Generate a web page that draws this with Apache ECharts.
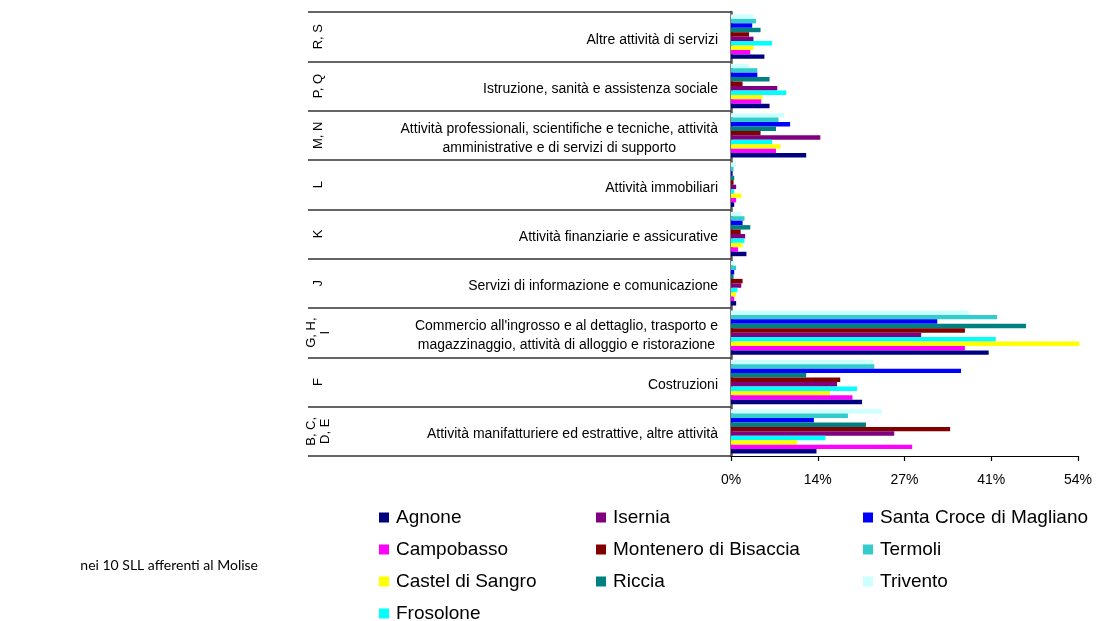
<!DOCTYPE html>
<html><head><meta charset="utf-8">
<script src="https://cdn.jsdelivr.net/npm/echarts@6/dist/echarts.min.js"></script>
<style>html,body{margin:0;padding:0;background:#fff}#c{width:1096px;height:621px}</style>
</head><body><div id="c"></div>
<script>
// categories, bottom to top
const codes = ['B, C,\nD, E', 'F', 'G, H,\nI', 'J', 'K', 'L', 'M, N', 'P, Q', 'R, S'];
const sectors = [
  'Attività manifatturiere ed estrattive, altre attività',
  'Costruzioni',
  "Commercio all'ingrosso e al dettaglio, trasporto e\nmagazzinaggio, attività di alloggio e ristorazione",
  'Servizi di informazione e comunicazione',
  'Attività finanziarie e assicurative',
  'Attività immobiliari',
  'Attività professionali, scientifiche e tecniche, attività\namministrative e di servizi di supporto',
  'Istruzione, sanità e assistenza sociale',
  'Altre attività di servizi'
];
const xTicks = [0, 13.5, 27, 40.5, 54];
const footnote = 'nei 10 SLL afferenti al Molise';

const agnone      = [13.3, 20.4, 40.1, 0.8, 2.4, 0.5, 11.7, 6.0, 5.2];
const campobasso  = [28.2, 18.9, 36.4, 0.5, 1.1, 0.8, 7.0, 4.7, 3.0];
const castel      = [10.3, 15.4, 54.2, 0.8, 1.8, 1.6, 7.7, 4.9, 3.5];
const frosolone   = [14.7, 19.6, 41.2, 1.0, 2.1, 0.5, 6.4, 8.6, 6.4];
const isernia     = [25.4, 16.5, 29.6, 1.6, 2.2, 0.8, 13.9, 7.2, 3.5];
const montenero   = [34.1, 17.0, 36.4, 1.8, 1.5, 0.4, 4.6, 1.8, 2.8];
const riccia      = [21.0, 11.7, 45.9, 0.4, 3.0, 0.5, 7.0, 6.0, 4.6];
const santaCroce  = [12.9, 35.8, 32.1, 0.5, 1.8, 0.2, 9.2, 4.1, 3.3];
const termoli     = [18.2, 22.3, 41.4, 0.8, 2.1, 0.4, 7.4, 4.1, 3.9];
const trivento    = [23.5, 22.1, 37.0, 0.5, 1.6, 0.8, 8.3, 2.8, 3.5];

const seriesDefs = [
  ['Agnone', agnone, '#000080'],
  ['Campobasso', campobasso, '#FF00FF'],
  ['Castel di Sangro', castel, '#FFFF00'],
  ['Frosolone', frosolone, '#00FFFF'],
  ['Isernia', isernia, '#800080'],
  ['Montenero di Bisaccia', montenero, '#800000'],
  ['Riccia', riccia, '#008080'],
  ['Santa Croce di Magliano', santaCroce, '#0000FF'],
  ['Termoli', termoli, '#33CCCC'],
  ['Trivento', trivento, '#CCFFFF']
];
const FONT = "'Liberation Sans', Arial, sans-serif";
const chart = echarts.init(document.getElementById('c'), null, {renderer: 'canvas'});

// ECharts stacks the first series at the top of each band; reverse so Agnone is at the bottom
const series = seriesDefs.slice().reverse().map(function (d) {
  return {
    name: d[0], type: 'bar', data: d[1], barGap: '0%', barCategoryGap: '10%',
    itemStyle: {color: d[2]}, clip: false, animation: false
  };
});

function legendFor(names, left) {
  return {
    orient: 'vertical', left: left, top: 508, height: 130, itemWidth: 10, itemHeight: 10, itemGap: 13,
    icon: 'rect', data: names, selectedMode: false, padding: 0,
    textStyle: {fontFamily: FONT, fontSize: 19, color: '#000', padding: [0, 0, 0, 2]}
  };
}

chart.setOption({
  animation: false,
  grid: {left: 731, right: 18, top: 12, bottom: 165, containLabel: false},
  xAxis: {
    type: 'value', min: 0, max: 54, interval: 13.5,
    axisLine: {show: true, lineStyle: {color: '#000', width: 1.2}},
    axisTick: {show: true, length: 5, lineStyle: {color: '#000', width: 1.2}},
    splitLine: {show: false},
    axisLabel: {
      margin: 17, fontFamily: FONT, fontSize: 14, color: '#000',
      formatter: function (v) { return xTicks.indexOf(v) >= 0 ? Math.round(v) + '%' : ''; }
    }
  },
  yAxis: [
    {
      type: 'category', data: sectors, position: 'left',
      axisLine: {show: true, lineStyle: {color: '#555', width: 2.5}},
      axisTick: {show: true, length: 423, lineStyle: {color: '#333', width: 1.5}},
      axisLabel: {
        margin: 13, fontFamily: FONT, fontSize: 14, color: '#000', align: 'right',
        lineHeight: 19, padding: [6, 0, 0, 0],
        formatter: function (v) {
          if (v.indexOf('\n') < 0) return v;
          return v.split('\n').map(function (s) { return '{c|' + s + '}'; }).join('\n');
        },
        rich: {c: {align: 'center', fontFamily: FONT, fontSize: 14, color: '#000', lineHeight: 19}}
      }
    },
    {
      type: 'category', data: codes, position: 'left', offset: 401,
      axisLine: {show: false}, axisTick: {show: false},
      axisLabel: {
        margin: 12, rotate: 90, fontFamily: FONT, fontSize: 13, color: '#000',
        align: 'center', verticalAlign: 'middle', lineHeight: 14
      }
    }
  ],
  legend: [
    legendFor(['Agnone', 'Campobasso', 'Castel di Sangro', 'Frosolone'], 379),
    legendFor(['Isernia', 'Montenero di Bisaccia', 'Riccia'], 596),
    legendFor(['Santa Croce di Magliano', 'Termoli', 'Trivento'], 863)
  ],
  graphic: [{
    type: 'text', x: 258, y: 565,
    style: {text: footnote, fontFamily: "Lato, 'Liberation Sans', sans-serif", fontSize: 14,
      fill: '#000', align: 'right', verticalAlign: 'middle'}
  }],
  series: series
});
</script></body></html>
